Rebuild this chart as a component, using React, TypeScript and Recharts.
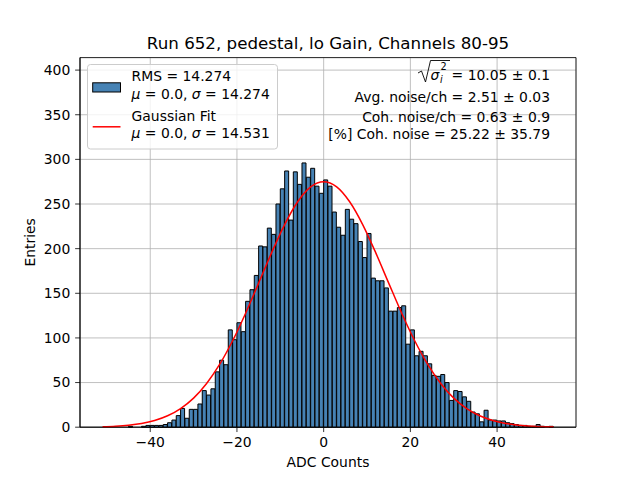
import React from 'react';
import { ComposedChart, Bar, Line, XAxis, YAxis, CartesianGrid, ReferenceArea, Legend } from 'recharts';

// histogram: one count per 1-ADC bin, first bin starts at -51
const BIN_START = -51;
const BIN_WIDTH = 1;
const COUNTS = [
  0, 0, 0, 0, 0, 0, 1, 0, 0, 1,
  2, 2, 2, 2, 3, 5, 8, 13, 21, 10,
  20, 20, 26, 41, 36, 43, 62, 75, 70, 109,
  98, 117, 107, 141, 154, 170, 203, 202, 223, 216,
  250, 267, 287, 232, 286, 272, 296, 280, 290, 270,
  262, 277, 270, 241, 224, 215, 244, 233, 228, 208,
  190, 217, 167, 164, 164, 156, 130, 130, 134, 136,
  93, 109, 80, 85, 80, 71, 58, 57, 59, 50,
  30, 41, 40, 34, 29, 17, 15, 6, 19, 8,
  8, 7, 7, 5, 4, 3, 2, 2, 1, 1,
  3, 1, 0, 1,
];

// gaussian fit curve
const FIT_X = [
  -51, -48, -45, -42, -39, -36, -33, -30, -27, -24, -21, -18, -15, -12, -9, -6, -3, 0,
  3, 6, 9, 12, 15, 18, 21, 24, 27, 30, 33, 36, 39, 42, 45, 48, 51, 53,
];
const FIT_Y = [
  0.6, 1.2, 2.3, 4.2, 7.5, 12.8, 20.9, 32.6, 49.0, 70.3, 96.8, 127.7, 161.4, 195.5, 227.0, 252.5, 269.2, 275.0,
  269.2, 252.5, 227.0, 195.5, 161.4, 127.7, 96.8, 70.3, 49.0, 32.6, 20.9, 12.8, 7.5, 4.2, 2.3, 1.2, 0.6, 0.4,
];

const X_TICKS = [-40, -20, 0, 20, 40];
const Y_TICKS = [0, 50, 100, 150, 200, 250, 300, 350, 400];
const X_DOMAIN = [-56.2, 58.2];
const Y_DOMAIN = [0, 414];

const STATS = [
  'Avg. noise/ch = 2.51 ± 0.03',
  'Coh. noise/ch = 0.63 ± 0.9',
  '[%] Coh. noise = 25.22 ± 35.79',
];

const bins = COUNTS.map((count, i) => ({ x: BIN_START + BIN_WIDTH * (i + 0.5), count }));
const fit = FIT_X.map((x, i) => ({ x, y: FIT_Y[i] }));

const FONT = 'DejaVu Sans';
const FS = 13.9;
const BAR_COLOR = '#4682b4';

const minus = (v: number) => String(v).replace('-', '\u2212');

function LegendBox() {
  return (
    <svg width={191} height={86} style={{ display: 'block' }} fontFamily={FONT} fontSize={FS}>
      <rect x={0.5} y={0.5} width={190} height={84.5} rx={3} fill="rgba(255,255,255,0.8)" stroke="#cccccc" />
      <rect x={5.7} y={18.8} width={27.8} height={9.2} fill={BAR_COLOR} stroke="#000" />
      <text x={44.6} y={16.5}>RMS = 14.274</text>
      <text x={44.6} y={34.5}>
        <tspan fontStyle="italic">μ</tspan> = 0.0, <tspan fontStyle="italic">σ</tspan> = 14.274
      </text>
      <line x1={5.7} x2={33.5} y1={62.8} y2={62.8} stroke="#ff0000" strokeWidth={1.5} />
      <text x={44.6} y={56.5}>Gaussian Fit</text>
      <text x={44.6} y={74}>
        <tspan fontStyle="italic">μ</tspan> = 0.0, <tspan fontStyle="italic">σ</tspan> = 14.531
      </text>
    </svg>
  );
}

export default function App() {
  return (
    <div style={{ position: 'absolute', left: 0, top: 0, width: 640, height: 480, background: '#fff' }}>
      <ComposedChart
        width={640}
        height={480}
        data={bins}
        margin={{ top: 57.6, right: 64, bottom: 22.8, left: 50 }}
        barCategoryGap={0}
        barGap={0}
      >
        <XAxis
          xAxisId="bins"
          dataKey="x"
          type="number"
          domain={X_DOMAIN}
          ticks={X_TICKS}
          interval={0}
          height={30}
          tickFormatter={minus}
          tickSize={4.86}
          tickMargin={5.5}
          tick={{ fill: '#000', fontSize: FS, fontFamily: FONT }}
          tickLine={{ stroke: '#000', strokeWidth: 0.8 }}
          axisLine={{ stroke: '#000', strokeWidth: 0.8 }}
        />
        <XAxis xAxisId="fit" dataKey="x" type="number" domain={X_DOMAIN} hide />
        <YAxis
          domain={Y_DOMAIN}
          ticks={Y_TICKS}
          interval={0}
          width={30}
          tickSize={4.86}
          tickMargin={4.86}
          tick={{ fill: '#000', fontSize: FS, fontFamily: FONT }}
          tickLine={{ stroke: '#000', strokeWidth: 0.8 }}
          axisLine={{ stroke: '#000', strokeWidth: 0.8 }}
        />
        <Bar
          xAxisId="bins"
          dataKey="count"
          fill={BAR_COLOR}
          stroke="#000"
          strokeWidth={1}
          isAnimationActive={false}
        />
        <CartesianGrid xAxisId="bins" stroke="#b0b0b0" strokeWidth={0.8} />
        <Line
          xAxisId="fit"
          data={fit}
          dataKey="y"
          type="monotone"
          stroke="#ff0000"
          strokeWidth={1.5}
          dot={false}
          activeDot={false}
          isAnimationActive={false}
        />
        <ReferenceArea
          xAxisId="bins"
          x1={X_DOMAIN[0]}
          x2={X_DOMAIN[1]}
          y1={Y_DOMAIN[0]}
          y2={Y_DOMAIN[1]}
          fill="none"
          fillOpacity={0}
          stroke="#000"
          strokeWidth={0.8}
        />
        <Legend
          layout="vertical"
          align="center"
          verticalAlign="middle"
          wrapperStyle={{ position: 'absolute', left: 86.5, top: 64, width: 191, height: 86, right: 'auto', bottom: 'auto' }}
          content={() => <LegendBox />}
        />
      </ComposedChart>

      <svg
        width={640}
        height={480}
        style={{ position: 'absolute', left: 0, top: 0, pointerEvents: 'none' }}
        fontFamily={FONT}
        fontSize={FS}
      >
        <text x={328} y={49} textAnchor="middle" fontSize={16.7}>
          Run 652, pedestal, lo Gain, Channels 80-95
        </text>
        <text x={328} y={467} textAnchor="middle">ADC Counts</text>
        <text x={35.5} y={242.4} textAnchor="middle" transform="rotate(-90 35.5 242.4)">Entries</text>

        {/* sqrt(sigma_i^2) line */}
        <path d="M418 73 L421.5 71 L425.5 82 L430.5 60.5 L450 60.5" fill="none" stroke="#000" strokeWidth={0.9} />
        <text x={430.5} y={80} fontStyle="italic">σ</text>
        <text x={440.5} y={70} fontSize={9.7}>2</text>
        <text x={440} y={83} fontSize={9.7} fontStyle="italic">i</text>
        <text x={550} y={80} textAnchor="end">= 10.05 ± 0.1</text>
        {STATS.map((s, i) => (
          <text key={s} x={550} y={[101.5, 121.5, 139][i]} textAnchor="end">{s}</text>
        ))}
      </svg>
    </div>
  );
}
